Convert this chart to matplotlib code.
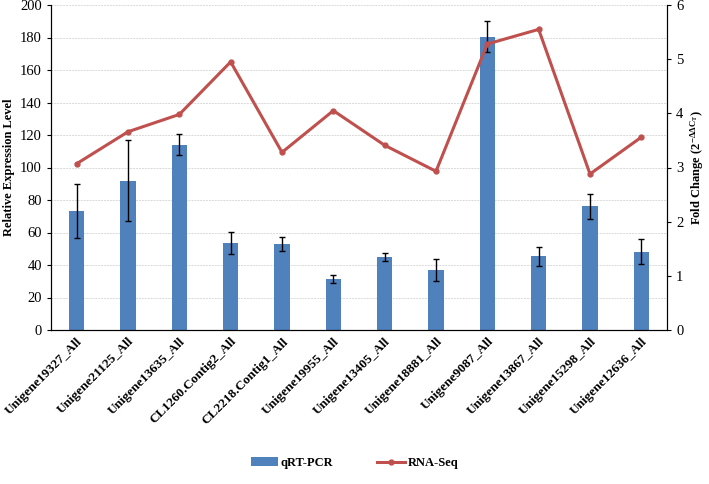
import numpy as np
import matplotlib
matplotlib.use('Agg')
import matplotlib.pyplot as plt

plt.rcParams['font.family'] = ['Liberation Serif', 'DejaVu Serif']
plt.rcParams['mathtext.fontset'] = 'stix'

# Gene names
genes = ['Unigene19327_All', 'Unigene21125_All', 'Unigene13635_All', 'CL1260.Contig2_All',
         'CL2218.Contig1_All', 'Unigene19955_All', 'Unigene13405_All', 'Unigene18881_All',
         'Unigene9087_All', 'Unigene13867_All', 'Unigene15298_All', 'Unigene12636_All']

# qRT-PCR relative expression (left axis) and error
qrt_pcr = [73.4, 92.0, 114.0, 53.7, 52.9, 31.5, 44.8, 36.7, 180.6, 45.4, 76.3, 48.2]
qrt_err = [16.7, 25.0, 6.5, 6.9, 4.5, 2.4, 2.6, 6.7, 9.4, 5.8, 7.7, 7.7]

# RNA-Seq fold change (right axis)
rna_seq = [3.07, 3.66, 3.98, 4.95, 3.28, 4.05, 3.41, 2.93, 5.28, 5.55, 2.88, 3.56]

fig = plt.figure(figsize=(7.09, 4.84), dpi=100)
ax = fig.add_axes([51/709, 1 - 330/484, 616/709, 325/484])
x = np.arange(len(genes))

bars = ax.bar(x, qrt_pcr, width=0.3, color='#4F81BD', label='qRT-PCR', zorder=2)
ax.errorbar(x, qrt_pcr, yerr=qrt_err, fmt='none', ecolor='black', elinewidth=1,
            capsize=2.5, capthick=1, zorder=3)
ax.set_ylim(0, 200)
ax.set_yticks(np.arange(0, 201, 20))
ax.set_xlim(-0.5, len(genes) - 0.5)
ax.yaxis.grid(True, color='#d9d9d9', linestyle=(0, (2, 1)), linewidth=0.7, zorder=0)
ax.set_axisbelow(True)
ax.set_xticks(x)
ax.set_xticklabels(genes, rotation=45, ha='right', rotation_mode='anchor',
                   fontsize=9.5, fontweight='bold')
ax.tick_params(axis='x', length=0, pad=4)
ax.tick_params(axis='y', labelsize=10.5, length=3)
ax.set_ylabel('Relative Expression Level', fontsize=9, fontweight='bold')
ax.spines['top'].set_visible(False)

ax2 = ax.twinx()
line, = ax2.plot(x, rna_seq, color='#C0504D', linewidth=2.2, marker='o',
                 markersize=3.5, label='RNA-Seq', zorder=4)
ax2.set_ylim(0, 6)
ax2.set_yticks(np.arange(0, 7, 1))
ax2.tick_params(axis='y', labelsize=10.5, length=3)
ax2.set_ylabel(r'Fold Change (2$^{\mathregular{-\Delta\Delta C_T}}$)', fontsize=9,
               fontweight='bold', labelpad=4)
ax2.spines['top'].set_visible(False)

fig.legend([bars, line], ['qRT-PCR', 'RNA-Seq'], loc='center', bbox_to_anchor=(0.5, 1 - 463/484),
           ncol=2, frameon=False, prop={'weight': 'bold', 'size': 9},
           handlelength=2.2, handletextpad=0.2, columnspacing=3.5)

fig.savefig('out.png', dpi=100)
